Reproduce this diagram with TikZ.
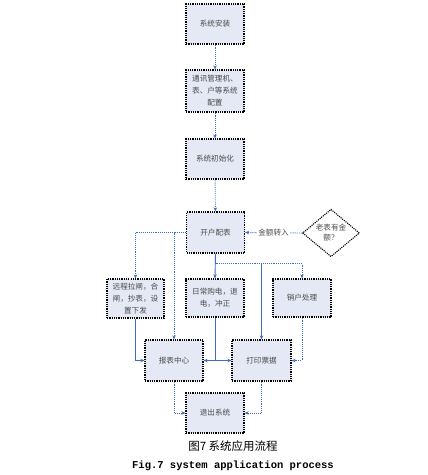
\documentclass[tikz,border=0pt]{standalone}
\usepackage{fontspec}
\setmainfont{Liberation Serif}
\newfontfamily\cjk{Noto Sans CJK SC}
\newfontfamily\monof{Liberation Mono}
\usetikzlibrary{shapes.geometric,arrows.meta,calc}
\definecolor{lineblue}{HTML}{3D6FC0}
\definecolor{boxfill}{HTML}{E4E9F5}
\definecolor{txt}{HTML}{4A4A4A}
\tikzset{
  box/.style={draw=black, densely dotted, line width=1.25pt, fill=boxfill, minimum width=58pt, minimum height=40pt, inner sep=1pt, align=center, font=\cjk\fontsize{7.6pt}{12pt}\selectfont, text=txt},
  dia/.style={draw=black, densely dotted, line width=1.1pt, fill=white, diamond, minimum width=57pt, minimum height=40pt, inner sep=0pt, align=center, font=\cjk\fontsize{7.6pt}{10pt}\selectfont, text=txt},
  conn/.style={draw=lineblue, line width=0.9pt, -{Stealth[length=4pt,width=3.5pt]}},
  dconn/.style={conn, densely dotted},
  plain/.style={draw=lineblue, line width=0.9pt}
}
\begin{document}
\begin{tikzpicture}[x=1pt,y=-1pt]
\useasboundingbox (0,0) rectangle (428,475);
\fill[white] (0,0) rectangle (428,475);
\node[box] (install) at (215,24) {系统安装};
\node[box, minimum height=42pt] (comm) at (215,91) {通讯管理机、\\表、户等系统\\配置};
\node[box] (init) at (215,159) {系统初始化};
\node[box, minimum height=41pt] (open) at (215.5,232.5) {开户配表};
\node[dia] (dia) at (331,233) {老表有金\\额？};
\node[box, minimum width=57pt, minimum height=39pt] (remote) at (135.5,298.5) {远程拉闸，合\\闸，抄表，设\\置下发};
\node[box, minimum height=38pt] (daily) at (215,298) {日常购电，退\\电，冲正};
\node[box, minimum height=38pt] (close) at (302,298) {销户处理};
\node[box, minimum height=41pt] (report) at (174,360.5) {报表中心};
\node[box, minimum height=41pt, minimum width=59pt] (print) at (261.5,360.5) {打印票据};
\node[box] (exit) at (215,413) {退出系统};

\draw[dconn] (install) -- (comm);
\draw[dconn] (comm) -- (init);
\draw[dconn] (init) -- (open);
\draw[dconn] (dia.west) -- node[fill=white, inner sep=1pt, font=\cjk\fontsize{7.6pt}{10pt}\selectfont, text=txt] {金额转入} (open.east);

\draw[dconn] (open.west) -| (remote.north);
\coordinate (rtop) at (report.north |- open.west);
\draw[dconn] (rtop) -- (report.north);

\coordinate (split) at ($(open.south)+(0,10)$);
\draw[conn] (open.south) -- (daily.north);
\draw[dconn] (split) -| (close.north);
\coordinate (ptop) at (print.north |- split);
\draw[conn] (ptop) -- (print.north);

\draw[conn] (remote.south) |- (report.west);
\coordinate (dj) at (daily.south |- report.east);
\draw[plain] (daily.south) -- (dj);
\draw[conn] (dj) -- (report.east);
\draw[conn] (dj) -- (print.west);
\draw[dconn] (close.south) |- (print.east);

\draw[dconn] (report.south) |- (exit.west);
\draw[dconn] (print.south) |- (exit.east);

\node[font=\cjk\fontsize{11.5pt}{13pt}\selectfont, inner sep=0pt] (cap) at (233,446) {图7\ 系统应用流程};
\node[font=\monof\bfseries\fontsize{10.5pt}{12pt}\selectfont, inner sep=0pt] (capen) at (233,466) {Fig.7 system application process};
\end{tikzpicture}
\end{document}
